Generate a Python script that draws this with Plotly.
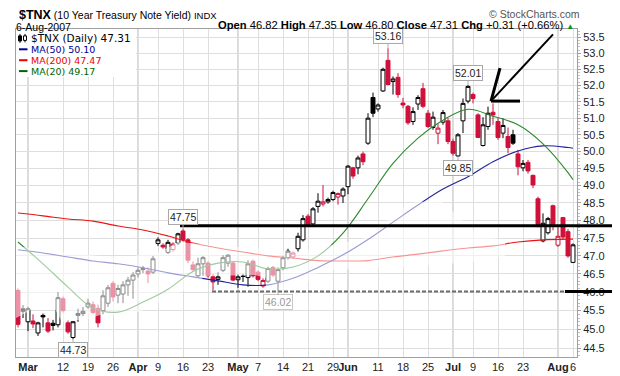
import math
import numpy as np
import pandas as pd
import plotly.graph_objects as go

# ---------------- data ----------------
HOLIDAYS = ["2007-04-06", "2007-05-28", "2007-07-04"]
DATES = [d.strftime("%Y-%m-%d") for d in pd.bdate_range("2007-02-27", "2007-08-06")
         if d.strftime("%Y-%m-%d") not in HOLIDAYS]

OPEN = [46.05, 45.55, 45.20, 45.22, 44.90, 45.37, 45.17, 45.16, 45.12, 45.82,
        45.17, 44.78, 45.42, 45.42, 45.60, 45.66, 45.56, 45.50, 45.70, 46.24,
        45.92, 45.95, 46.20, 46.33, 46.50, 46.66, 46.58, 46.55, 47.35, 47.30,
        47.10, 47.18, 47.36, 47.70, 47.45, 46.75, 46.45, 46.78, 46.80, 46.42,
        46.35, 46.60, 46.80, 46.80, 46.34, 46.44, 46.40, 46.85, 46.55, 46.17,
        46.30, 46.68, 46.30, 46.67, 46.95, 46.97, 47.20, 47.45, 48.12, 47.90,
        48.40, 48.47, 48.53, 48.60, 48.67, 48.70, 48.97, 49.52, 49.52, 49.93,
        50.25, 51.63, 51.28, 51.83, 52.78, 52.12, 52.25, 51.46, 51.36, 50.90,
        51.43, 51.90, 51.15, 50.72, 50.55, 50.88, 50.92, 50.30, 49.87, 50.92,
        51.52, 51.72, 51.10, 50.18, 50.75, 51.18, 50.90, 50.55, 50.45, 50.50,
        49.93, 49.52, 49.68, 49.30, 48.62, 47.42, 47.65, 48.42, 47.30, 48.08,
        47.68, 46.82]
HIGH = [46.10, 45.65, 45.60, 45.40, 45.20, 45.42, 45.30, 45.25, 46.00, 45.88,
        45.25, 45.22, 45.55, 45.60, 45.82, 45.75, 45.66, 46.05, 46.20, 46.30,
        46.20, 46.30, 46.42, 46.55, 46.68, 46.72, 46.68, 47.00, 47.52, 47.35,
        47.45, 47.38, 47.65, 47.75, 47.50, 46.85, 46.95, 47.00, 46.85, 46.50,
        46.55, 47.02, 47.05, 46.85, 46.50, 46.50, 46.88, 46.90, 46.60, 46.38,
        46.70, 46.72, 46.68, 47.00, 47.20, 47.12, 47.65, 48.15, 48.18, 48.38,
        48.78, 49.02, 48.65, 48.85, 48.80, 48.95, 49.60, 49.55, 49.88, 50.00,
        51.15, 51.78, 51.45, 52.55, 53.16, 52.28, 52.38, 51.62, 51.40, 51.33,
        51.70, 52.08, 51.25, 51.20, 50.82, 51.25, 51.00, 50.38, 50.55, 51.60,
        52.01, 51.78, 51.15, 51.03, 51.35, 51.45, 51.00, 51.00, 50.72, 50.65,
        50.05, 49.75, 49.75, 49.32, 48.68, 48.20, 48.10, 48.45, 47.85, 48.10,
        47.75, 47.35]
LOW = [45.05, 45.30, 44.95, 45.03, 44.82, 45.05, 44.90, 44.97, 45.05, 45.45,
       44.88, 44.73, 45.20, 45.35, 45.55, 45.40, 45.05, 45.40, 45.60, 45.75,
       45.70, 45.70, 45.90, 45.82, 46.40, 46.52, 46.25, 46.50, 47.28, 47.20,
       47.05, 47.12, 47.30, 47.40, 46.80, 46.55, 46.40, 46.45, 46.40, 46.05,
       46.20, 46.55, 46.70, 46.30, 46.12, 46.28, 46.15, 46.40, 46.30, 46.12,
       46.25, 46.42, 46.02, 46.60, 46.90, 46.92, 47.12, 47.40, 47.82, 47.85,
       48.22, 48.40, 48.48, 48.55, 48.45, 48.50, 48.75, 49.20, 49.33, 49.60,
       50.20, 51.03, 51.20, 51.80, 52.00, 51.72, 51.62, 51.30, 50.80, 50.80,
       51.25, 51.30, 50.70, 50.65, 50.22, 50.80, 50.22, 49.88, 49.85, 50.55,
       51.45, 51.45, 50.40, 50.15, 50.65, 50.80, 50.35, 50.40, 49.95, 50.20,
       49.30, 49.42, 49.35, 48.93, 47.80, 47.38, 47.60, 47.72, 47.25, 47.45,
       46.95, 46.80]
CLOSE = [45.13, 45.48, 45.55, 45.14, 45.17, 45.33, 44.95, 45.10, 45.85, 45.50,
         44.93, 45.20, 45.37, 45.48, 45.70, 45.45, 45.17, 45.90, 46.12, 45.87,
         46.10, 46.20, 46.33, 46.47, 46.60, 46.62, 46.50, 46.92, 47.45, 47.25,
         47.38, 47.33, 47.62, 47.45, 46.88, 46.62, 46.78, 46.95, 46.45, 46.28,
         46.42, 46.95, 47.02, 46.33, 46.42, 46.43, 46.78, 46.45, 46.35, 46.32,
         46.65, 46.47, 46.62, 46.95, 47.13, 47.08, 47.55, 48.05, 47.88, 48.33,
         48.55, 48.53, 48.60, 48.80, 48.77, 48.90, 49.57, 49.28, 49.81, 49.70,
         51.00, 51.15, 51.40, 52.50, 52.03, 52.20, 51.72, 51.40, 50.86, 51.20,
         51.63, 51.36, 50.75, 51.03, 50.70, 51.17, 50.30, 49.95, 50.50, 51.45,
         51.97, 51.60, 50.42, 50.80, 51.15, 51.10, 50.42, 50.78, 50.12, 50.25,
         49.55, 49.65, 49.43, 49.02, 47.88, 47.92, 48.05, 47.83, 47.55, 47.53,
         47.00, 47.31]

# moving averages (every 5th session)
MA_IDX = [0, 5, 10, 15, 20, 25, 30, 35, 40, 45, 50, 55, 60, 65, 70, 75, 80, 85,
          90, 95, 100, 105, 110, 111]
MA50 = [47.17, 47.08, 46.97, 46.86, 46.78, 46.67, 46.53, 46.42, 46.31, 46.20,
        46.20, 46.38, 46.68, 47.03, 47.46, 47.95, 48.44, 48.90, 49.26, 49.70,
        50.02, 50.17, 50.12, 50.10]
MA200 = [48.21, 48.13, 48.04, 47.98, 47.84, 47.73, 47.56, 47.36, 47.22, 47.11,
         47.00, 46.94, 46.87, 46.86, 46.87, 46.97, 47.05, 47.14, 47.22, 47.28,
         47.39, 47.45, 47.47, 47.47]
MA20 = [47.39, 46.78, 46.14, 45.57, 45.46, 45.73, 46.08, 46.57, 46.80, 46.83,
        46.64, 46.69, 47.00, 47.64, 48.62, 49.65, 50.40, 50.94, 51.27, 51.06,
        50.80, 50.23, 49.38, 49.17]

TICK_DATES = ["2007-03-01", "2007-03-12", "2007-03-19", "2007-03-26", "2007-04-02",
              "2007-04-09", "2007-04-16", "2007-04-23", "2007-05-01", "2007-05-07",
              "2007-05-14", "2007-05-21", "2007-05-29", "2007-06-01", "2007-06-11",
              "2007-06-18", "2007-06-25", "2007-07-02", "2007-07-09", "2007-07-16",
              "2007-07-23", "2007-08-01", "2007-08-06"]
TICK_TEXT = ["Mar", "12", "19", "26", "Apr", "9", "16", "23", "May", "7", "14", "21",
             "29", "Jun", "11", "18", "25", "Jul", "9", "16", "23", "Aug", "6"]
Y_TICKS = [44.5, 45.0, 45.5, 46.0, 46.5, 47.0, 47.5, 48.0, 48.5, 49.0, 49.5, 50.0,
           50.5, 51.0, 51.5, 52.0, 52.5, 53.0, 53.5]

# price call-outs (date, which extreme)
CALLOUTS = [("2007-06-13", "high"), ("2007-07-06", "high"), ("2007-07-03", "low"),
            ("2007-04-16", "high"), ("2007-03-14", "low"), ("2007-05-11", "low")]

# hand-drawn annotation levels
RESISTANCE = 47.85
SUPPORT = 46.02

assert len(DATES) == 112

# ---------------- geometry helpers ----------------
# the page body has an 8px margin, so the figure is drawn 8px smaller and
# every reference-pixel position is shifted by that offset
OFF = 8
W, H = 620 - OFF, 376 - OFF
PL, PR, PT, PB = 16, 577, 29, 357          # plot area in reference pixels
XMIN, XMAX = -0.4, 111.8
YLO, YHI = math.log10(44.265), math.log10(53.77)


def pxp(px):            # reference pixel x -> paper
    return (px - OFF) / W


def pyp(py):            # reference pixel y -> paper
    return 1 - (py - OFF) / H


def xp(i):
    return pxp(PL + (i - XMIN) / (XMAX - XMIN) * (PR - PL))


def yp(v):
    return pyp(PB - (math.log10(v) - YLO) / (YHI - YLO) * (PB - PT))


n = len(DATES)
is_red = [True] + [CLOSE[k] < CLOSE[k - 1] for k in range(1, n)]

RED = "#d0103a"
BLACK = "#000000"

fig = go.Figure()


def add_candles(mask, color):
    idx = [k for k in range(n) if mask[k]]
    fig.add_trace(go.Candlestick(
        x=[DATES[k] for k in idx],
        open=[OPEN[k] for k in idx], high=[HIGH[k] for k in idx],
        low=[LOW[k] for k in idx], close=[CLOSE[k] for k in idx],
        increasing=dict(line=dict(color=color, width=1), fillcolor="white"),
        decreasing=dict(line=dict(color=color, width=1), fillcolor=color),
        whiskerwidth=0, showlegend=False, hoverinfo="skip"))


add_candles([not r for r in is_red], BLACK)
add_candles(is_red, RED)

ma_x = [DATES[i] for i in MA_IDX]
for vals, col in [(MA200, "#ee1111"), (MA50, "#22229a"), (MA20, "#2b8a2b")]:
    fig.add_trace(go.Scatter(x=ma_x, y=vals, mode="lines",
                             line=dict(color=col, width=1.1, shape="spline"),
                             showlegend=False, hoverinfo="skip"))

shapes = []
# darker month grid lines
for d, t in zip(TICK_DATES, TICK_TEXT):
    if t.isalpha():
        i = DATES.index(d)
        shapes.append(dict(type="line", xref="paper", yref="paper", x0=xp(i), x1=xp(i),
                           y0=pyp(PB), y1=pyp(PT), line=dict(color="#b4b4b4", width=1),
                           layer="between"))

# faded (washed-out) area of the original image
FADE_PX = [(16, 246), (60, 252), (120, 258), (160, 252), (178, 242), (250, 248),
           (300, 252), (365, 238), (410, 203), (440, 200), (480, 236), (505, 240),
           (505, 256), (470, 262), (400, 268), (320, 270), (297, 293), (266, 293),
           (266, 278), (255, 275), (205, 276), (195, 285), (165, 300), (130, 316),
           (100, 315), (85, 320), (75, 320), (62, 322), (50, 300), (16, 318)]
path = "M " + " L ".join(f"{pxp(x):.4f},{pyp(y):.4f}" for x, y in FADE_PX) + " Z"
shapes.append(dict(type="path", xref="paper", yref="paper", path=path,
                   fillcolor="rgba(255,255,255,0.55)", line=dict(width=0), layer="above"))

# hand-drawn lines
i_res = DATES.index("2007-04-16") - 0.6
shapes.append(dict(type="line", xref="paper", yref="paper", x0=xp(i_res), x1=pxp(620),
                   y0=yp(RESISTANCE), y1=yp(RESISTANCE), line=dict(color="black", width=3),
                   layer="above"))
i_sup0 = DATES.index("2007-04-24") - 0.2
i_sup1 = DATES.index("2007-08-02") + 0.4
shapes.append(dict(type="line", xref="paper", yref="paper", x0=xp(i_sup0), x1=xp(i_sup1),
                   y0=yp(SUPPORT), y1=yp(SUPPORT),
                   line=dict(color="#6a6a6a", width=2, dash="4px,2px"), layer="above"))
shapes.append(dict(type="line", xref="paper", yref="paper", x0=xp(i_sup1), x1=pxp(620),
                   y0=yp(SUPPORT), y1=yp(SUPPORT), line=dict(color="black", width=3),
                   layer="above"))
tip_i, tip_v = DATES.index("2007-07-13") - 0.4, 51.52
shapes.append(dict(type="line", xref="paper", yref="paper", x0=xp(tip_i), x1=xp(tip_i + 5.8),
                   y0=yp(tip_v), y1=yp(tip_v), line=dict(color="black", width=3), layer="above"))
shapes.append(dict(type="line", xref="paper", yref="paper", x0=xp(tip_i), x1=xp(tip_i + 12.4),
                   y0=yp(tip_v), y1=yp(53.6), line=dict(color="black", width=2), layer="above"))
shapes.append(dict(type="line", xref="paper", yref="paper", x0=xp(tip_i), x1=xp(tip_i + 1.8),
                   y0=yp(tip_v), y1=yp(52.54), line=dict(color="black", width=3), layer="above"))

# legend box + icons
LEG_Y1 = 38.4
shapes.append(dict(type="rect", xref="paper", yref="paper", x0=pxp(16.5), x1=pxp(136),
                   y0=pyp(77), y1=pyp(29.5), fillcolor="white", line=dict(width=0),
                   layer="above"))
shapes.append(dict(type="line", xref="paper", yref="paper", x0=pxp(20), x1=pxp(20),
                   y0=pyp(LEG_Y1 + 4.5), y1=pyp(LEG_Y1 - 4.5),
                   line=dict(color="black", width=1), layer="above"))
shapes.append(dict(type="rect", xref="paper", yref="paper", x0=pxp(18.5), x1=pxp(21.5),
                   y0=pyp(LEG_Y1 + 2.5), y1=pyp(LEG_Y1 - 2.5), fillcolor="black",
                   line=dict(color="black", width=1), layer="above"))
shapes.append(dict(type="line", xref="paper", yref="paper", x0=pxp(25), x1=pxp(25),
                   y0=pyp(LEG_Y1 + 4), y1=pyp(LEG_Y1 - 4.5),
                   line=dict(color="black", width=1), layer="above"))
shapes.append(dict(type="rect", xref="paper", yref="paper", x0=pxp(23.5), x1=pxp(26.5),
                   y0=pyp(LEG_Y1 + 2), y1=pyp(LEG_Y1 - 2.5), fillcolor="white",
                   line=dict(color="black", width=1), layer="above"))

legend_rows = [("MA(50) %.2f" % MA50[-1], "#000090", 49.3),
               ("MA(200) %.2f" % MA200[-1], "#ee0000", 60.2),
               ("MA(20) %.2f" % MA20[-1], "#006400", 71.1)]
for _, col, yy in legend_rows:
    shapes.append(dict(type="line", xref="paper", yref="paper", x0=pxp(19), x1=pxp(27.5),
                       y0=pyp(yy), y1=pyp(yy), line=dict(color=col, width=2), layer="above"))

annotations = []
annotations.append(dict(x=pxp(29), y=pyp(LEG_Y1), xref="paper", yref="paper", xanchor="left",
                        yanchor="middle", showarrow=False,
                        text="$TNX (Daily) %.2f" % CLOSE[-1],
                        font=dict(family="DejaVu Sans", size=10.5, color="black")))
for txt, col, yy in legend_rows:
    annotations.append(dict(x=pxp(28.5), y=pyp(yy), xref="paper", yref="paper",
                            xanchor="left", yanchor="middle", showarrow=False, text=txt,
                            font=dict(family="DejaVu Sans", size=9.5, color=col)))

# call-outs
for d, kind in CALLOUTS:
    i = DATES.index(d)
    v = HIGH[i] if kind == "high" else LOW[i]
    faded = d == "2007-05-11"
    annotations.append(dict(
        x=xp(i), y=yp(v), xref="paper", yref="paper", text="%.2f" % v,
        showarrow=True, arrowhead=0, arrowwidth=1, arrowcolor="#b0b0b0",
        ax=0, ay=-12 if kind == "high" else 11,
        bgcolor="white", bordercolor="#c8c8c8" if faded else "#a8a8a8",
        borderwidth=1, borderpad=1,
        font=dict(family="Liberation Sans", size=10.5,
                  color="#999999" if faded else "#222222")))

# header texts (centre-anchored)
annotations.append(dict(x=pxp(118), y=pyp(14.6), xref="paper", yref="paper", xanchor="center",
                        yanchor="middle", showarrow=False,
                        text="<span style='font-size:12.5px'><b>$TNX</b></span> "
                             "(10 Year Treasury Note Yield) "
                             "<span style='font-size:9.5px'>INDX</span>",
                        font=dict(family="Liberation Sans", size=10.5, color="black")))
annotations.append(dict(x=pxp(43), y=pyp(26.6), xref="paper", yref="paper", xanchor="center",
                        yanchor="middle", showarrow=False, text="6-Aug-2007",
                        font=dict(family="Liberation Sans", size=10.5, color="black")))
chg = CLOSE[-1] - CLOSE[-2]
pct = chg / CLOSE[-2] * 100
hdr = ("<b>Open</b> %.2f <b>High</b> %.2f <b>Low</b> %.2f <b>Close</b> %.2f "
       "<b>Chg</b> %+.2f (%+.2f%%) <span style='color:#109010;font-size:8px'>▲</span>"
       % (OPEN[-1], HIGH[-1], LOW[-1], CLOSE[-1], chg, pct))
annotations.append(dict(x=pxp(396), y=pyp(25.5), xref="paper", yref="paper", xanchor="center",
                        yanchor="middle", showarrow=False, text=hdr,
                        font=dict(family="Liberation Sans", size=11.2, color="black")))
annotations.append(dict(x=pxp(534), y=pyp(13.5), xref="paper", yref="paper", xanchor="center",
                        yanchor="middle", showarrow=False, text="© StockCharts.com",
                        font=dict(family="Liberation Sans", size=10.5, color="#555555")))

xt_text = ["<b>%s</b>" % t if t.isalpha() else t for t in TICK_TEXT]

fig.update_layout(
    width=W, height=H,
    margin=dict(l=0, r=0, t=0, b=0, autoexpand=False),
    template="none",
    paper_bgcolor="white", plot_bgcolor="white",
    font=dict(family="Liberation Sans, Arial, sans-serif", size=11, color="#222"),
    showlegend=False, hovermode=False,
    boxgap=0.12, boxgroupgap=0.1,
    xaxis=dict(type="category", categoryorder="array", categoryarray=DATES,
               domain=[pxp(PL), pxp(PR)], automargin=False, tickangle=0,
               range=[XMIN, XMAX], tickmode="array", tickvals=TICK_DATES, ticktext=xt_text,
               showgrid=True, gridcolor="#dedede", gridwidth=1, ticks="",
               showline=True, linecolor="#a0a0a0", linewidth=1, mirror=True,
               rangeslider=dict(visible=False), zeroline=False,
               tickfont=dict(size=11, color="#222")),
    yaxis=dict(type="log", range=[YLO, YHI], side="right", tickmode="array",
               domain=[pyp(PB), pyp(PT)], automargin=False,
               tickvals=Y_TICKS, ticktext=["%.1f" % v for v in Y_TICKS],
               showgrid=True, gridcolor="#dedede", gridwidth=1,
               ticks="outside", ticklen=3, tickcolor="#a0a0a0",
               minor=dict(tickvals=[round(v, 1) for v in np.arange(44.3, 53.8, 0.1)],
                          ticks="outside", ticklen=2, tickcolor="#c0c0c0", showgrid=False),
               showline=True, linecolor="#a0a0a0", linewidth=1, mirror=True,
               zeroline=False, tickfont=dict(size=11, color="#222")),
    shapes=shapes, annotations=annotations,
)

fig.write_html("out.html")
